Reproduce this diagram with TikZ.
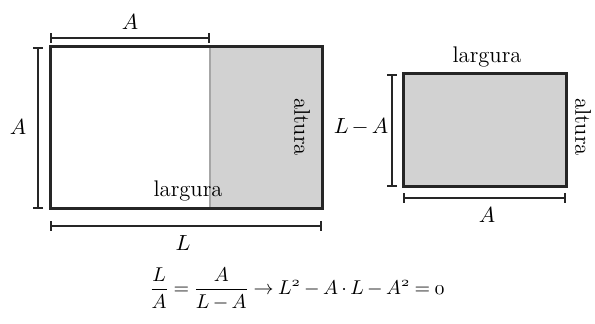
\documentclass[tikz,border=0pt]{standalone}
\usetikzlibrary{arrows.meta}
\begin{document}
\begin{tikzpicture}[x=0.5pt,y=-0.5pt,
  box/.style={line width=1.5pt,draw=black!85},
  dimbar/.style={line width=1.1pt,draw=black!85,{Bar[width=5pt]}-{Bar[width=5pt]}},
  lbl/.style={font=\fontsize{11.3}{13}\selectfont,inner sep=0pt}]
\useasboundingbox (0,0) rectangle (595,324);
% big rectangle
\coordinate (bTL) at (50,47);
\coordinate (bBR) at (322,209);
\coordinate (mT) at (210,47);
\coordinate (mB) at (210,209);
\fill[gray!35] (mT) rectangle (bBR);
\draw[gray!70,line width=1.2pt] (mT) -- (mB);
\draw[box] (bTL) rectangle (bBR);
% dims big
\coordinate (tA1) at (50,38); \coordinate (tA2) at (210,38);
\draw[dimbar] (tA1) -- (tA2);
\node[lbl] (la1) at (130,22) {$A$};
\coordinate (lA1) at (38,47); \coordinate (lA2) at (38,209);
\draw[dimbar] (lA1) -- (lA2);
\node[lbl] (la2) at (18,127) {$A$};
\coordinate (bL1) at (50,226); \coordinate (bL2) at (322,226);
\draw[dimbar] (bL1) -- (bL2);
\node[lbl] (ll) at (183,243) {$L$};
\node[lbl] (larg1) at (188,191) {largura};
\node[lbl,rotate=-90] (alt1) at (302,127) {altura};
% small rectangle
\coordinate (sTL) at (403,74);
\coordinate (sBR) at (566,187);
\draw[box,fill=gray!35] (sTL) rectangle (sBR);
\coordinate (sl1) at (392,74); \coordinate (sl2) at (392,187);
\draw[dimbar] (sl1) -- (sl2);
\node[lbl] (lma) at (361,127) {$\medmuskip=2.5mu L-A$};
\coordinate (sb1) at (403,198); \coordinate (sb2) at (566,198);
\draw[dimbar] (sb1) -- (sb2);
\node[lbl] (sa) at (487,215) {$A$};
\node[lbl] (larg2) at (487,57) {largura};
\node[lbl,rotate=-90] (alt2) at (583,127) {altura};
% equation
\node[font=\fontsize{10.4}{13}\selectfont,inner sep=0pt] (eq) at (297,289) {$\thickmuskip=4mu\medmuskip=3mu\displaystyle \frac{L}{A}=\frac{A}{L-A}\rightarrow L^{\oldstylenums{2}}-A\cdot L-A^{\oldstylenums{2}}=\oldstylenums{0}$};
\end{tikzpicture}
\end{document}
